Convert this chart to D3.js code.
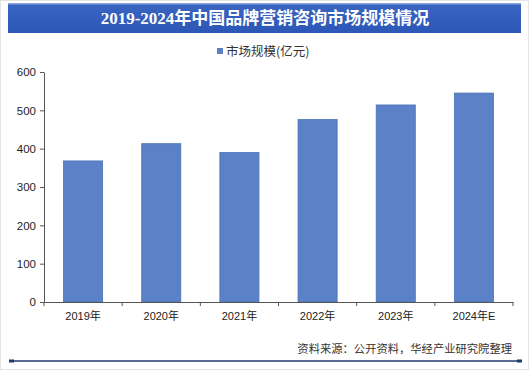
<!DOCTYPE html>
<html>
<head>
<meta charset="utf-8">
<script src="https://cdn.jsdelivr.net/npm/d3@7"></script>
<style>
  body { margin: 0; background: #fff; }
  svg { display: block; }
</style>
</head>
<body>
<svg></svg>
<script>
let years = ["2019年", "2020年", "2021年", "2022年", "2023年", "2024年E"]
let values = [368, 413, 390, 476, 514, 545]
let yTicks = [0, 100, 200, 300, 400, 500, 600]
let titleText = "2019-2024年中国品牌营销咨询市场规模情况"
let legendText = "市场规模(亿元)"
let sourceText = "资料来源：公开资料，华经产业研究院整理"

let width = 531
let height = 372

let svg = d3.select("svg")
  .attr("width", width)
  .attr("height", height)

// faint frame like the screenshot edge
svg.append("rect")
  .attr("x", 0.5).attr("y", 0.5)
  .attr("width", width - 3).attr("height", height - 3)
  .attr("fill", "none")
  .attr("stroke", "#e4e4e4")

// title band
let grad = svg.append("defs").append("linearGradient")
  .attr("id", "band").attr("x1", 0).attr("y1", 0).attr("x2", 0).attr("y2", 1)
grad.append("stop").attr("offset", "0%").attr("stop-color", "#9fb6e3")
grad.append("stop").attr("offset", "8%").attr("stop-color", "#3964c2")
grad.append("stop").attr("offset", "100%").attr("stop-color", "#2c57b6")

svg.append("rect")
  .attr("x", 8).attr("y", 3)
  .attr("width", 513).attr("height", 30)
  .attr("fill", "url(#band)")

svg.append("text")
  .attr("x", 265).attr("y", 24)
  .attr("text-anchor", "middle")
  .attr("fill", "#fff")
  .style("font-family", "'Liberation Serif', 'Noto Sans CJK SC', serif")
  .style("font-weight", "bold")
  .style("font-size", "17px")
  .text(titleText)

// legend
svg.append("rect")
  .attr("x", 217).attr("y", 48)
  .attr("width", 6).attr("height", 6)
  .attr("fill", "#5b82c6")
svg.append("text")
  .attr("x", 226).attr("y", 56)
  .attr("fill", "#333")
  .style("font-family", "'Noto Sans CJK SC', sans-serif")
  .style("font-size", "12.5px")
  .text(legendText)

let xScale = d3.scaleBand()
  .domain(years)
  .range([44, 513])
  .paddingInner(0.5)
  .paddingOuter(0.25)

let yScale = d3.scaleLinear()
  .domain([0, 600])
  .range([302, 72])

// bars
svg.selectAll(".bar")
  .data(values)
  .enter()
  .append("rect")
  .attr("class", "bar")
  .attr("x", (d, i) => xScale(years[i]))
  .attr("y", d => yScale(d))
  .attr("width", xScale.bandwidth())
  .attr("height", d => yScale(0) - yScale(d))
  .attr("fill", "#5b82c6")
  .attr("stroke", "#4b71b6")
  .attr("stroke-width", 0.8)

// y axis
let yAxis = d3.axisLeft(yScale)
  .tickValues(yTicks)
  .tickSize(4)
  .tickSizeOuter(0)
let gy = svg.append("g")
  .attr("transform", "translate(44, 0)")
  .call(yAxis)
gy.select(".domain").attr("stroke", "#555")
gy.selectAll(".tick line").attr("stroke", "#555")
gy.selectAll(".tick text")
  .attr("fill", "#222")
  .attr("x", -8)
  .style("font-family", "'Liberation Sans', Arial, sans-serif")
  .style("font-size", "11.5px")

// x axis, labels centred, ticks on band edges
let xAxis = d3.axisBottom(xScale)
  .tickSize(0)
  .tickSizeOuter(0)
let gx = svg.append("g")
  .attr("transform", "translate(0, 302)")
  .call(xAxis)
gx.select(".domain").attr("stroke", "#555")
gx.selectAll(".tick text")
  .attr("fill", "#222")
  .attr("dy", "1.35em")
  .style("font-family", "'Liberation Sans', 'Noto Sans CJK SC', sans-serif")
  .style("font-size", "11px")

let edges = d3.range(years.length + 1).map(i => xScale.range()[0] + i * xScale.step())
gx.selectAll(".edge")
  .data(edges)
  .enter()
  .append("line")
  .attr("class", "edge")
  .attr("x1", d => d).attr("x2", d => d)
  .attr("y1", 0).attr("y2", 4)
  .attr("stroke", "#555")

// source note
svg.append("text")
  .attr("x", 512).attr("y", 353)
  .attr("text-anchor", "end")
  .attr("fill", "#333")
  .style("font-family", "'Noto Sans CJK SC', sans-serif")
  .style("font-size", "11.3px")
  .text(sourceText)

// bottom rule with small end caps
svg.append("line")
  .attr("x1", 10).attr("x2", 521)
  .attr("y1", 361).attr("y2", 361)
  .attr("stroke", "#1f3a6e")
  .attr("stroke-width", 1.3)
svg.append("rect").attr("x", 9).attr("y", 359.5).attr("width", 5).attr("height", 3).attr("fill", "#1f3a6e")
svg.append("rect").attr("x", 517).attr("y", 359.5).attr("width", 5).attr("height", 3).attr("fill", "#1f3a6e")
</script>
</body>
</html>
